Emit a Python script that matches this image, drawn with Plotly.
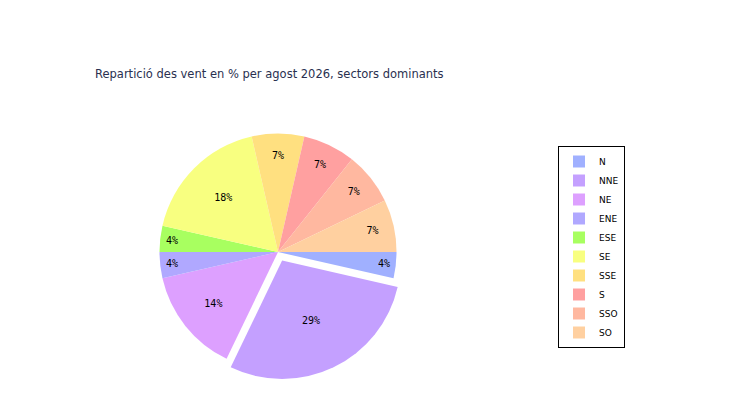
import plotly.graph_objects as go

sectors = ["N", "NNE", "NE", "ENE", "ESE", "SE", "SSE", "S", "SSO", "SO"]
counts = [1, 8, 4, 1, 1, 5, 2, 2, 2, 2]
colors = ["#a0b0ff", "#c4a0ff", "#dda0ff", "#b0a8ff", "#a8ff60",
          "#f8ff80", "#ffe080", "#ffa0a0", "#ffb8a0", "#ffd0a0"]
pulls = [0, 0.08, 0, 0, 0, 0, 0, 0, 0, 0]

fig = go.Figure(
    go.Pie(
        labels=sectors,
        values=counts,
        sort=False,
        direction="clockwise",
        rotation=90,
        pull=pulls,
        marker=dict(colors=colors, line=dict(width=0)),
        texttemplate="%{percent:.0%}",
        textposition="inside",
        insidetextorientation="horizontal",
        textfont=dict(family="DejaVu Sans Mono", size=10, color="black"),
        domain=dict(x=[0.067, 0.653], y=[0.07, 0.71]),
        hoverinfo="label+percent",
    )
)

fig.update_layout(
    width=750,
    height=400,
    margin=dict(l=0, r=0, t=0, b=0),
    paper_bgcolor="white",
    plot_bgcolor="white",
    title=dict(
        text="Repartició des vent en % per agost 2026, sectors dominants",
        x=87 / 750,
        xanchor="left",
        y=1 - 66 / 400,
        yanchor="middle",
        pad=dict(l=0, r=0, t=0, b=0),
        font=dict(family="DejaVu Sans", size=11.5, color="#2a3050"),
    ),
    legend=dict(
        x=550 / 750,
        y=1 - 138 / 400,
        xanchor="left",
        yanchor="top",
        bordercolor="black",
        borderwidth=1,
        bgcolor="white",
        font=dict(family="DejaVu Sans", size=9, color="black"),
        itemwidth=30,
        tracegroupgap=0,
    ),
)

fig.write_html("out.html")
